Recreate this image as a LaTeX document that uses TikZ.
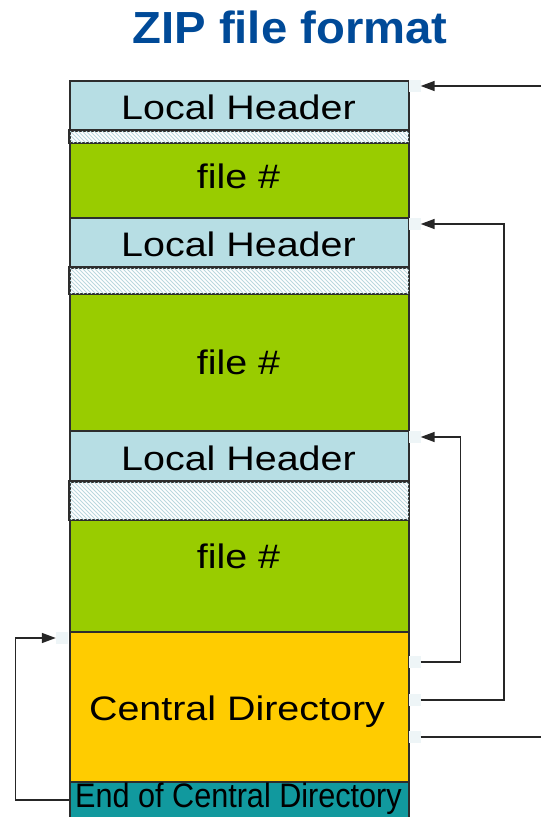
\documentclass[tikz,border=0pt]{standalone}
\usepackage{fontspec}
\usetikzlibrary{arrows.meta}
\newfontfamily\arialf{Liberation Sans}
\definecolor{hdrblue}{RGB}{183,222,228}
\definecolor{filegreen}{RGB}{153,204,0}
\definecolor{cdyellow}{RGB}{255,204,0}
\definecolor{ecdteal}{RGB}{17,153,158}
\definecolor{titleblue}{RGB}{0,74,152}
\definecolor{hatchblue}{RGB}{186,216,222}
\definecolor{markgray}{RGB}{238,245,247}
\definecolor{edgegray}{RGB}{45,45,45}
\tikzset{
  blk/.style={draw=edgegray, line width=1.5pt, inner sep=0pt, minimum width=339pt, anchor=north west},
  hdr/.style={blk, fill=hdrblue},
  filebox/.style={blk, fill=filegreen},
  hatchbox/.style={blk, fill=white},
  hatchline/.style={draw=hatchblue, line width=1pt},
  cdbox/.style={blk, fill=cdyellow},
  ecdbox/.style={blk, fill=ecdteal},
  lbl/.style={inner sep=0pt, anchor=base, font=\arialf\fontsize{34}{34}\selectfont},
  marker/.style={fill=markgray, inner sep=0pt, minimum width=12pt, minimum height=12pt},
  conn/.style={draw=black!85, line width=1.5pt},
  arr/.style={conn, -{Triangle[length=14pt,width=10pt]}}
}
\newcommand{\hatchfill}[1]{%
  \begin{scope}
    \clip (#1.north west) rectangle (#1.south east);
    \foreach \xx in {-40,-36,...,420} {
      \draw[hatchline] (#1.north west) ++(\xx,0) -- ++(40,40);
    }
  \end{scope}
  \draw[draw=edgegray, line width=1.5pt] (#1.north west) rectangle (#1.south east);
}
\begin{document}
\begin{tikzpicture}[x=1pt,y=-1pt]
\useasboundingbox (0,0) rectangle (541,817);
% title
\node[inner sep=0pt, anchor=base, text=titleblue, font=\arialf\bfseries\fontsize{45}{45}\selectfont] (title) at (290,43) {\scalebox{1.05}[1]{ZIP file format}};
% blocks
\node[hdr, minimum height=50pt] (lh1) at (69,80) {};
\node[hatchbox, minimum height=12pt] (h1) at (69,130) {};
\node[filebox, minimum height=75pt] (f1) at (69,142) {};
\node[hdr, minimum height=50pt] (lh2) at (69,217) {};
\node[hatchbox, minimum height=26pt] (h2) at (69,267) {};
\node[filebox, minimum height=137pt] (f2) at (69,293) {};
\node[hdr, minimum height=51pt] (lh3) at (69,430) {};
\node[hatchbox, minimum height=38pt] (h3) at (69,481) {};
\node[filebox, minimum height=112pt] (f3) at (69,519) {};
\node[cdbox, minimum height=150pt] (cd) at (69,631) {};
\node[ecdbox, minimum height=36pt] (ecd) at (69,781) {};
\hatchfill{h1}
\hatchfill{h2}
\hatchfill{h3}
% labels
\node[lbl] (t1) at (238.5,119.3) {\scalebox{1.16}[1]{Local Header}};
\node[lbl] (t2) at (238.5,188.3) {\scalebox{1.16}[1]{file \#}};
\node[lbl] (t3) at (238.5,256.7) {\scalebox{1.16}[1]{Local Header}};
\node[lbl] (t4) at (238.5,374.3) {\scalebox{1.16}[1]{file \#}};
\node[lbl] (t5) at (238.5,470) {\scalebox{1.16}[1]{Local Header}};
\node[lbl] (t6) at (238.5,568) {\scalebox{1.16}[1]{file \#}};
\node[lbl] (t7) at (237,720) {\scalebox{1.16}[1]{Central Directory}};
\node[lbl] (t8) at (238.5,807.5) {\scalebox{0.9}[1]{End of Central Directory}};
% markers
\node[marker] (mL1) at (414.5,86) {};
\node[marker] (mL2) at (414.5,224) {};
\node[marker] (mL3) at (414.5,437) {};
\node[marker] (mC1) at (414.5,662) {};
\node[marker] (mC2) at (414.5,700) {};
\node[marker] (mC3) at (414.5,737) {};
\node[marker] (mCD) at (62,638) {};
\coordinate (eTop) at (541,86);
\coordinate (eBot) at (541,737);
% connectors
\draw[arr] (eTop) -- (mL1.east);
\draw[arr] (mC1.east) -- ++(40,0) |- (mL3.east);
\draw[arr] (mC2.east) -- ++(83.3,0) |- (mL2.east);
\draw[conn] (mC3.east) -- (eBot);
\draw[arr] (ecd.west |- 0,800) -- (15.7,800) |- (mCD.west);
\end{tikzpicture}
\end{document}
